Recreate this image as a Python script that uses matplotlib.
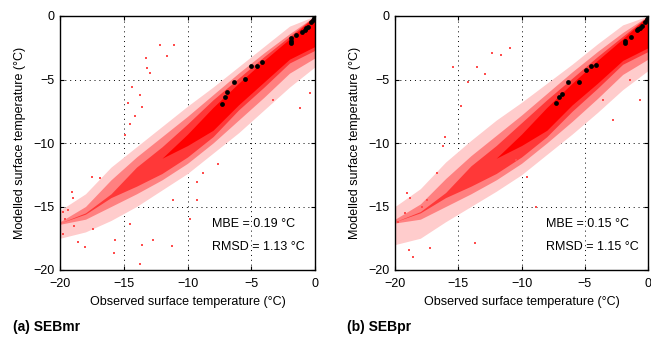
import matplotlib
matplotlib.use("Agg")
import matplotlib.pyplot as plt

plt.rcParams['font.family'] = ['Liberation Sans', 'DejaVu Sans']

# ---------------- data ----------------
# band nodes along observed temperature (°C)
band_x = [-20, -18, -16, -14, -12, -10, -8, -6, -4, -2, 0]

# panel (a) SEBmr : cloud extents (modelled °C) per node, outer -> inner
a_sparse_hi = [-15.3, -14.0, -11.9, -10.3, -8.7, -7.1, -5.6, -4.0, -2.4, -0.8, 0.0]
a_sparse_lo = [-17.5, -17.0, -16.1, -15.0, -13.7, -12.4, -10.8, -9.2, -7.4, -5.6, -4.0]
a_mid_hi = [-16.2, -15.0, -12.9, -11.1, -9.5, -7.9, -6.2, -4.5, -2.9, -1.4, 0.0]
a_mid_lo = [-16.4, -16.0, -15.0, -14.0, -12.9, -11.6, -10.0, -8.2, -6.4, -4.5, -3.3]
a_dense_hi = [-16.3, -15.5, -14.0, -11.9, -10.3, -8.5, -6.6, -4.9, -3.2, -1.6, 0.0]
a_dense_lo = [-16.3, -15.6, -14.3, -13.4, -12.4, -11.1, -9.5, -7.4, -5.6, -3.7, -2.7]
a_solid_hi = [-16.3, -15.5, -14.1, -12.6, -11.2, -9.3, -7.2, -5.3, -3.5, -1.8, 0.0]
a_solid_lo = [-16.3, -15.5, -14.1, -12.6, -11.2, -10.2, -9.0, -7.0, -5.2, -3.4, -2.4]

# panel (b) SEBpr
b_sparse_hi = [-15.0, -13.6, -11.5, -9.8, -8.2, -6.8, -5.3, -3.8, -2.2, -0.7, 0.0]
b_sparse_lo = [-18.0, -17.5, -16.2, -15.0, -13.8, -12.5, -10.9, -9.3, -7.6, -5.8, -4.3]
b_mid_hi = [-16.0, -14.8, -12.8, -11.0, -9.4, -7.8, -6.1, -4.4, -2.8, -1.3, 0.0]
b_mid_lo = [-16.3, -16.0, -15.0, -14.0, -12.9, -11.6, -10.0, -8.3, -6.5, -4.6, -3.4]
b_dense_hi = [-16.2, -15.4, -13.9, -11.8, -10.2, -8.4, -6.6, -4.9, -3.2, -1.6, 0.0]
b_dense_lo = [-16.2, -15.5, -14.3, -13.4, -12.4, -11.1, -9.5, -7.5, -5.7, -3.8, -2.8]
b_solid_hi = [-16.2, -15.4, -14.1, -12.6, -11.2, -9.3, -7.2, -5.3, -3.5, -1.8, 0.0]
b_solid_lo = [-16.2, -15.4, -14.1, -12.6, -11.2, -10.2, -9.0, -7.0, -5.3, -3.5, -2.5]

# isolated red points (observed, modelled)
a_out_x = [-12.16, -13.25, -13.15, -12.94, -14.38, -14.64, -14.12, -13.73, -14.9, -14.5, -11.06,
           -11.63, -13.6, -19.74, -19.08, -19.0, -19.6, -18.9, -18.56, -18.04, -17.39, -15.8,
           -14.5, -13.73, -13.6, -11.24, -12.68, -17.46, -16.86, -15.7, -19.35, -19.74, -7.63,
           -8.76, -9.28, -9.28, -9.8, -11.16, -1.18, -0.39, -3.27]
a_out_y = [-2.31, -3.28, -4.07, -4.46, -5.59, -6.88, -7.87, -6.25, -9.34, -8.53, -2.26,
           -3.15, -7.2, -17.19, -13.83, -14.36, -15.98, -16.5, -17.77, -18.16, -16.8, -18.69,
           -16.4, -19.5, -18.0, -18.1, -17.64, -12.65, -12.78, -17.64, -15.27, -15.41, -11.65,
           -12.34, -13.04, -14.49, -16.0, -14.49, -7.27, -6.09, -6.61]
b_out_x = [-19.08, -18.82, -18.87, -18.55, -17.24, -17.5, -16.7, -19.74, -19.2, -13.68, -15.4,
           -13.55, -16.05, -11.66, -8.82, -9.6, -10.4, -2.76, -3.55, -1.45, -0.66, -14.2,
           -12.9, -12.3, -14.8, -10.9, -17.9, -16.2]
b_out_y = [-13.96, -14.36, -18.43, -18.95, -18.29, -14.49, -12.39, -16.19, -15.54, -17.9, -3.99,
           -3.99, -9.5, -3.07, -15.01, -12.65, -11.34, -8.19, -6.61, -5.04, -6.61, -5.2,
           -4.6, -2.9, -7.1, -2.5, -15.0, -10.2]

# black station points
a_blk_x = [-7.29, -7.06, -6.88, -6.35, -5.51, -5.02, -4.58, -4.16, -1.91, -1.91, -1.91, -1.47,
           -1.05, -0.78, -0.70, -0.57, -0.29, -0.18, -0.08]
a_blk_y = [-6.90, -6.40, -5.96, -5.20, -4.99, -3.94, -3.94, -3.65, -1.76, -1.97, -2.15, -1.47,
           -1.23, -1.10, -0.97, -0.84, -0.45, -0.31, -0.18]
b_blk_x = [-7.27, -7.01, -6.83, -6.30, -5.45, -4.90, -4.50, -4.11, -1.82, -1.82, -1.37, -0.89,
           -0.77, -0.63, -0.50, -0.24, -0.10, -0.02]
b_blk_y = [-6.88, -6.35, -6.17, -5.17, -5.20, -4.25, -3.94, -3.88, -1.94, -2.15, -1.65, -1.10,
           -1.05, -0.92, -0.79, -0.45, -0.26, -0.13]

stats_a = ["MBE = 0.19 °C", "RMSD = 1.13 °C"]
stats_b = ["MBE = 0.15 °C", "RMSD = 1.15 °C"]
titles = ["(a) SEBmr", "(b) SEBpr"]
ticks = [-20, -15, -10, -5, 0]
tick_labels = ["\u221220", "\u221215", "\u221210", "\u22125", "0"]

# ---------------- drawing ----------------
fig = plt.figure(figsize=(6.51, 3.38), dpi=100)
axa = fig.add_axes([60/651, 1-270/338, 255/651, 254/338])
axb = fig.add_axes([395/651, 1-270/338, 253/651, 254/338])

layer_colors = [(1.0, 0.80, 0.80), (1.0, 0.50, 0.50), (1.0, 0.22, 0.22), (1.0, 0.0, 0.0)]

panels = [
    (axa, [(a_sparse_hi, a_sparse_lo), (a_mid_hi, a_mid_lo), (a_dense_hi, a_dense_lo),
           (a_solid_hi, a_solid_lo)],
     a_out_x, a_out_y, a_blk_x, a_blk_y, stats_a),
    (axb, [(b_sparse_hi, b_sparse_lo), (b_mid_hi, b_mid_lo), (b_dense_hi, b_dense_lo),
           (b_solid_hi, b_solid_lo)],
     b_out_x, b_out_y, b_blk_x, b_blk_y, stats_b),
]

for ax, layers, ox, oy, bx, by, st in panels:
    ax.set_axisbelow(True)
    for k, (hi, lo) in enumerate(layers):
        ax.fill_between(band_x, lo, hi, color=layer_colors[k], lw=0, zorder=1 + k)
    ax.scatter(ox, oy, s=1.5, marker='s', color=(1.0, 0.3, 0.3), lw=0, zorder=5)
    ax.scatter(bx, by, s=12, color='black', lw=0, zorder=6)

    ax.set_xlim(-20, 0)
    ax.set_ylim(-20, 0)
    ax.set_xticks(ticks)
    ax.set_xticklabels(tick_labels)
    ax.set_yticks(ticks)
    ax.set_yticklabels(tick_labels)
    ax.tick_params(direction='in', length=3, width=0.8, labelsize=9, top=True, right=True)
    ax.tick_params(axis='x', pad=6)
    ax.tick_params(axis='y', pad=4)
    ax.grid(True, color='black', linestyle=(0, (1, 4)), linewidth=0.7, zorder=0)
    for s in ax.spines.values():
        s.set_linewidth(1.0)
        s.set_zorder(7)
    ax.set_xlabel("Observed surface temperature (°C)", fontsize=9, labelpad=4)
    ax.set_ylabel("Modelled surface temperature (°C)", fontsize=9, labelpad=5)
    ax.text(-8.1, -16.4, st[0], fontsize=9, va='center', ha='left', zorder=8)
    ax.text(-8.1, -18.2, st[1], fontsize=9, va='center', ha='left', zorder=8)

fig.text(13/651, 1-327/338, titles[0], fontsize=10, fontweight='bold', va='center', ha='left')
fig.text(347/651, 1-327/338, titles[1], fontsize=10, fontweight='bold', va='center', ha='left')

fig.savefig("out.png", dpi=100)
